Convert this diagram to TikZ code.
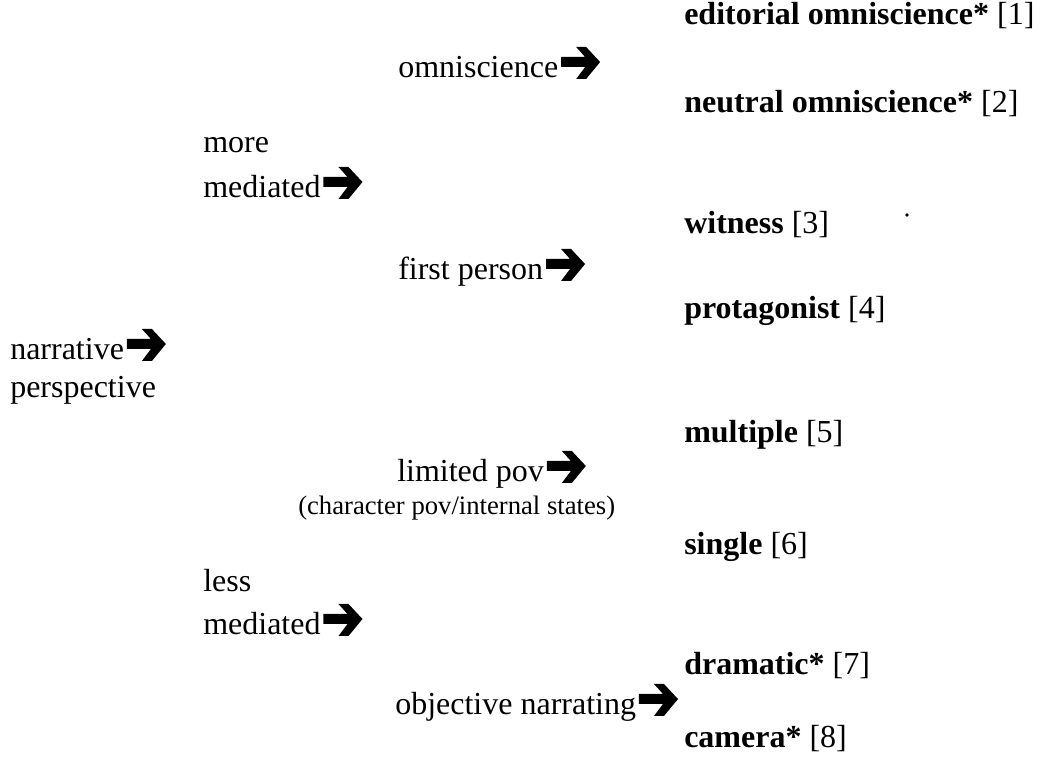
\documentclass[tikz,border=0pt]{standalone}
\usepackage{fontspec}
\setmainfont{Liberation Serif}
\tikzset{
  lbl/.style={anchor=base west, inner sep=0pt, font=\fontsize{24}{28}\selectfont},
  note/.style={anchor=base west, inner sep=0pt, font=\fontsize{20}{24}\selectfont},
  leaf/.style={anchor=base west, inner sep=0pt, font=\fontsize{24}{28}\selectfont},
  rarrow/.pic={
    \fill[black] (0,-21) -- (24,-21) -- (15,-31) -- (25,-31) -- (39,-16)
      -- (25,1) -- (15,1) -- (24,-11) -- (0,-11) -- cycle;
  }
}
\begin{document}
\begin{tikzpicture}[x=0.75pt,y=-0.75pt]
\useasboundingbox (0,0) rectangle (1040,762);
% level 0
\node[lbl] (narr) at (10,360) {narrative};
\node[lbl] (persp) at (10,398) {perspective};
\pic at ([xshift=2pt]narr.base east) {rarrow};
% level 1
\node[lbl] (more) at (203,153) {more};
\node[lbl] (moremed) at (203,198) {mediated};
\pic at ([xshift=2pt]moremed.base east) {rarrow};
\node[lbl] (less) at (203,592) {less};
\node[lbl] (lessmed) at (203,635) {mediated};
\pic at ([xshift=2pt]lessmed.base east) {rarrow};
% level 2
\node[lbl] (omni) at (398,78) {omniscience};
\pic at ([xshift=2pt]omni.base east) {rarrow};
\node[lbl] (first) at (398,280) {first person};
\pic at ([xshift=2pt]first.base east) {rarrow};
\node[lbl] (lim) at (397,482) {limited pov};
\pic at ([xshift=2pt]lim.base east) {rarrow};
\node[note] (limnote) at (298,515) {(character pov/internal states)};
\node[lbl] (obj) at (395,715) {objective narrating};
\pic at ([xshift=2pt]obj.base east) {rarrow};
% level 3
\node[leaf] (l1) at (684,25) {\textbf{editorial omniscience*} [1]};
\node[leaf] (l2) at (684,113) {\textbf{neutral omniscience*} [2]};
\node[leaf] (l3) at (684,234) {\textbf{witness} [3]};
\node[leaf] (l4) at (684,319) {\textbf{protagonist} [4]};
\node[leaf] (l5) at (684,443) {\textbf{multiple} [5]};
\node[leaf] (l6) at (684,555) {\textbf{single} [6]};
\node[leaf] (l7) at (684,675) {\textbf{dramatic*} [7]};
\node[leaf] (l8) at (684,748) {\textbf{camera*} [8]};
% stray speck
\fill[black] (907,215) circle (1.8);
\end{tikzpicture}
\end{document}
